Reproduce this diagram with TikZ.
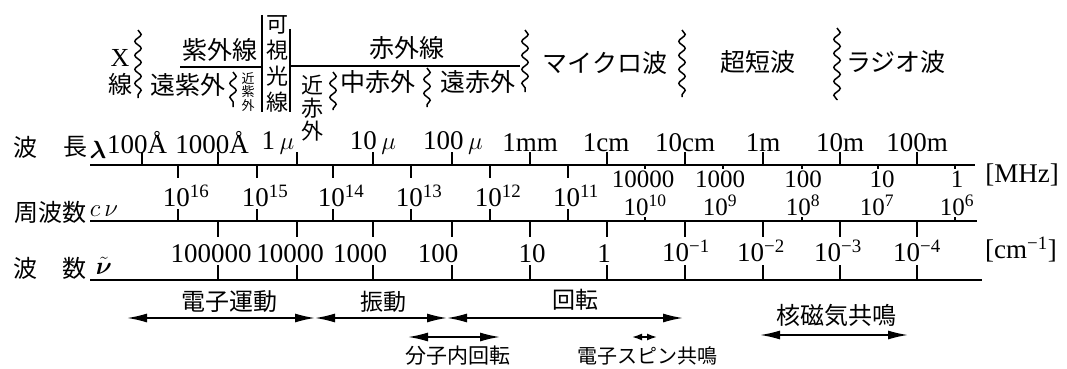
\documentclass[tikz,border=0pt]{standalone}
\usepackage{amsmath}
\usepackage{fontspec}
\setmainfont{Liberation Serif}
\newfontfamily\jp{Noto Sans CJK JP}
\usetikzlibrary{decorations.pathmorphing,arrows.meta}
\begin{document}
\begin{tikzpicture}[x=1pt,y=-1pt,
  ax/.style={line width=2.6pt},
  tk/.style={line width=1.3pt},
  sq/.style={line width=1.5pt,decorate,decoration={snake,segment length=14pt,amplitude=3.2pt}},
  num/.style={font=\fontsize{27}{30}\selectfont,inner sep=0pt},
  nums/.style={font=\fontsize{25}{27}\selectfont,inner sep=0pt},
  jp/.style={font=\jp\fontsize{24}{28}\selectfont,inner sep=0pt},
  jpl/.style={font=\jp\fontsize{25}{28}\selectfont,inner sep=0pt},
  arr/.style={line width=1.6pt,{Latex[length=20pt,width=9pt]}-{Latex[length=20pt,width=9pt]}},
  arrs/.style={line width=1.6pt,{Latex[length=10pt,width=7pt]}-{Latex[length=10pt,width=7pt]}}]
\useasboundingbox (0,0) rectangle (1067,369);

% ---------- top region: spectral regions ----------
\node[num,font=\fontsize{26}{28}\selectfont] (xl) at (120,58) {X};
\node[jp] (xs) at (120,84) {線};
\draw[sq] (138,30) -- (138,98);
\node[jpl] (uv) at (220,50) {紫外線};
\draw[line width=1.4pt] (180,67) -- (262,67);
\draw[line width=1.4pt] (262,15) -- (262,112);
\draw[line width=1.4pt] (290,29) -- (290,112);
\draw[line width=1.4pt] (290,66) -- (520,66);
\node[jpl] (fuv) at (188,85) {遠紫外};
\draw[sq] (233,72) -- (233,107);
\node[jp,font=\jp\fontsize{13}{13.5}\selectfont,align=center] (nuv) at (248,92) {近\\紫\\外};
\node[jp,font=\jp\fontsize{22}{26}\selectfont,align=center] (vis) at (277,64) {可\\視\\光\\線};
\node[jp,font=\jp\fontsize{22}{23}\selectfont,align=center] (nir) at (312,108) {近\\赤\\外};
\draw[sq] (333,72) -- (333,110);
\node[jpl] (ir) at (407,48) {赤外線};
\node[jpl] (mir) at (378,82) {中赤外};
\draw[sq] (427,68) -- (427,107);
\node[jpl] (fir) at (478,82) {遠赤外};
\draw[sq] (525,30) -- (525,92);
\node[jpl] (mw) at (605,63) {マイクロ波};
\draw[sq] (682,30) -- (682,97);
\node[jpl] (vhf) at (758,62) {超短波};
\draw[sq] (837,28) -- (837,100);
\node[jpl] (rad) at (896,62) {ラジオ波};

% ---------- axes ----------
\draw[ax] (90,165) -- (975,165);
\draw[ax] (90,221) -- (977,221);
\draw[ax] (90,280) -- (982,280);

% left labels
\node[jp] (l1a) at (25,147) {波};
\node[jp] (l1b) at (75,147) {長};
\node[num] (l1c) at (98,150) {$\boldsymbol{\lambda}$};
\node[jp] (l2a) at (50,212) {周波数};
\node[num,font=\fontsize{25}{28}\selectfont] (l2b) at (104,211) {$c\,\nu$};
\node[jp] (l3a) at (25,268) {波};
\node[jp] (l3b) at (74,268) {数};
\node[num] (l3c) at (104,266) {$\tilde{\boldsymbol{\nu}}$};

% wavelength ticks (up from lambda line)
\foreach \x in {142,218,297,373,452,530,607,685,763,840,917}
  \draw[tk] (\x,165) -- (\x,152);
% wavelength labels
\node[num] (w1) at (137,143) {100Å};
\node[num] (w2) at (212,143) {1000Å};
\node[num] (w3) at (278,143) {1\,$\mu$};
\node[num] (w4) at (373,143) {10\,$\mu$};
\node[num] (w5) at (453,143) {100\,$\mu$};
\node[num] (w6) at (530,143) {1mm};
\node[num] (w7) at (606,143) {1cm};
\node[num] (w8) at (685,143) {10cm};
\node[num] (w9) at (763,143) {1m};
\node[num] (w10) at (840,143) {10m};
\node[num] (w11) at (917,143) {100m};

% frequency ticks
\foreach \x in {178,257,333,411,490,568} {
  \draw[tk] (\x,165) -- (\x,178);
  \draw[tk] (\x,221) -- (\x,209);
}
\foreach \x in {645,723,802,878,955}
  \draw[tk] (\x,165) -- (\x,169);
\foreach \x in {645,802,955}
  \draw[tk] (\x,221) -- (\x,217);
% frequency labels
\node[num] (f16) at (186,196) {10\textsuperscript{16}};
\node[num] (f15) at (265,196) {10\textsuperscript{15}};
\node[num] (f14) at (341,196) {10\textsuperscript{14}};
\node[num] (f13) at (419,196) {10\textsuperscript{13}};
\node[num] (f12) at (498,196) {10\textsuperscript{12}};
\node[num] (f11) at (576,196) {10\textsuperscript{11}};
\node[nums] (m1) at (643,179) {10000};
\node[nums] (m2) at (720,179) {1000};
\node[nums] (m3) at (803,179) {100};
\node[nums] (m4) at (882,179) {10};
\node[nums] (m5) at (957,179) {1};
\node[num] (mhz) at (1022,175) {[MHz]};
\node[nums] (f10) at (645,205) {10\textsuperscript{10}};
\node[nums] (f9) at (720,205) {10\textsuperscript{9}};
\node[nums] (f8) at (803,205) {10\textsuperscript{8}};
\node[nums] (f7) at (877,205) {10\textsuperscript{7}};
\node[nums] (f6) at (957,205) {10\textsuperscript{6}};

% wavenumber ticks
\foreach \x in {218,297,373,452,530,607,685,763,840,917} {
  \draw[tk] (\x,221) -- (\x,237);
  \draw[tk] (\x,280) -- (\x,265);
}
% wavenumber labels
\node[num] (k1) at (211,254) {100000};
\node[num] (k2) at (290,254) {10000};
\node[num] (k3) at (360,254) {1000};
\node[num] (k4) at (438,254) {100};
\node[num] (k5) at (532,254) {10};
\node[num] (k6) at (604,254) {1};
\node[num] (k7) at (686,251) {10\textsuperscript{−1}};
\node[num] (k8) at (761,251) {10\textsuperscript{−2}};
\node[num] (k9) at (838,251) {10\textsuperscript{−3}};
\node[num] (k10) at (917,251) {10\textsuperscript{−4}};
\node[num] (cm) at (1021,250) {[cm\textsuperscript{−1}]};

% ---------- bottom: ranges ----------
\coordinate (a0) at (127,318);
\coordinate (a1) at (315,318);
\coordinate (a2) at (447,318);
\coordinate (a3) at (683,318);
\draw[arr] (a0) -- (a1);
\draw[arr] (a1) -- (a2);
\draw[arr] (a2) -- (a3);
\node[jp] (em) at (229,302) {電子運動};
\node[jp,font=\jp\fontsize{23}{26}\selectfont] (vib) at (383,302) {振動};
\node[jp,font=\jp\fontsize{23}{26}\selectfont] (rot) at (575,300) {回転};

\coordinate (b0) at (408,337);
\coordinate (b1) at (500,337);
\draw[arr] (b0) -- (b1);
\node[jp,font=\jp\fontsize{21}{24}\selectfont] (irot) at (458,356) {分子内回転};

\coordinate (c0) at (632,337);
\coordinate (c1) at (657,337);
\draw[arrs] (c0) -- (c1);
\node[jp,font=\jp\fontsize{20}{24}\selectfont] (esr) at (647,356) {電子スピン共鳴};

\coordinate (d0) at (760,335);
\coordinate (d1) at (908,335);
\draw[arr] (d0) -- (d1);
\node[jp] (nmr) at (836,315) {核磁気共鳴};
\end{tikzpicture}
\end{document}
